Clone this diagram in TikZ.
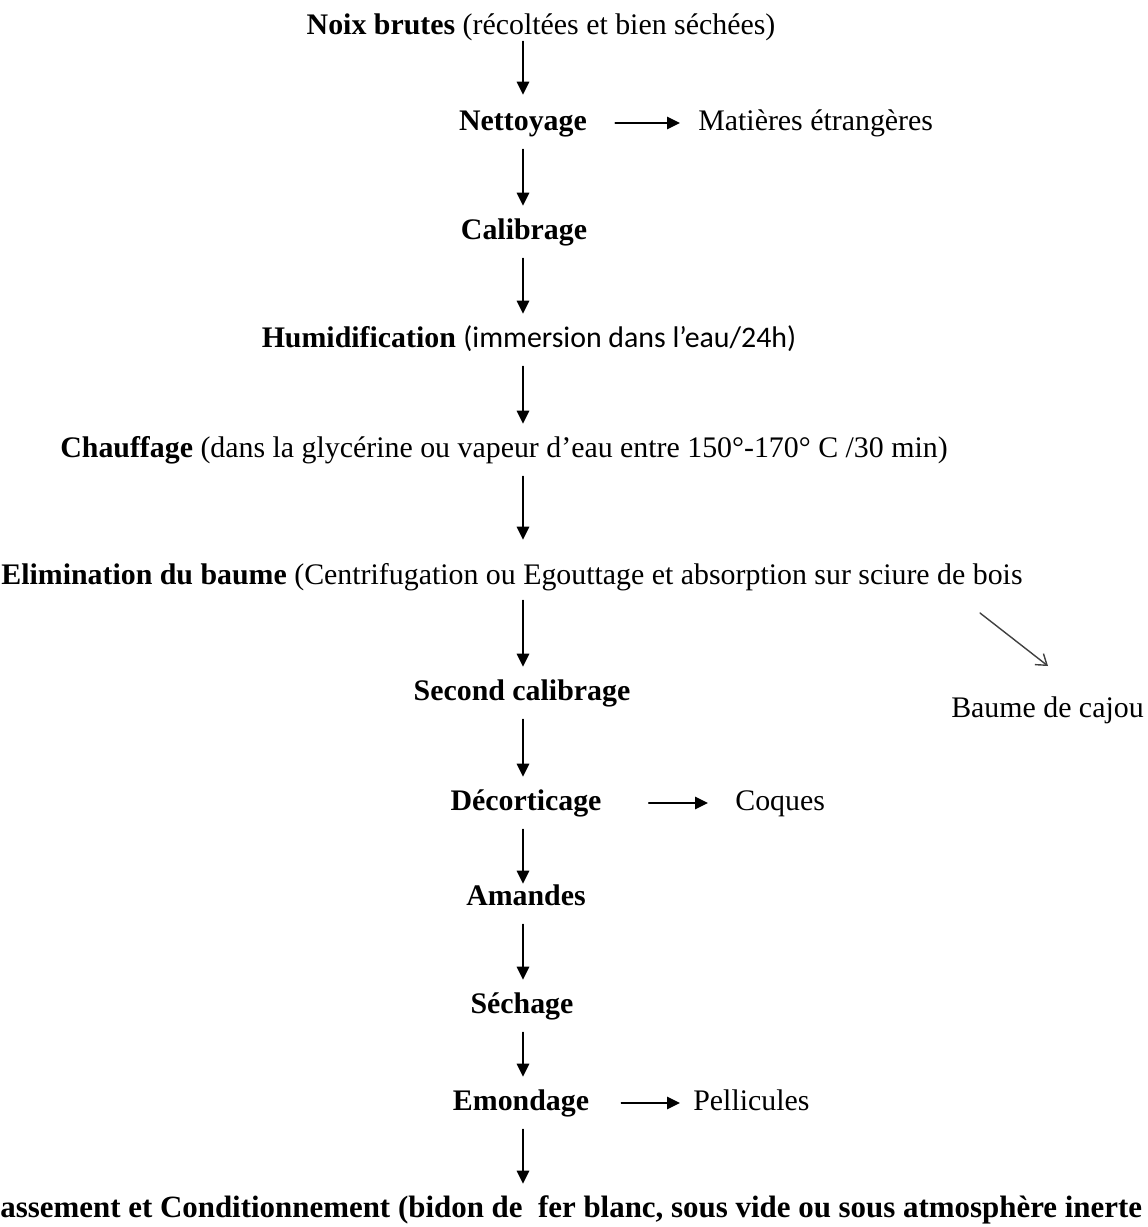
\documentclass[tikz,border=0pt]{standalone}
\usepackage{fontspec}
\setmainfont{Liberation Serif}
\newfontfamily\calibfont{Carlito}
\usetikzlibrary{arrows.meta}

\begin{document}
\begin{tikzpicture}[x=0.02cm, y=-0.02cm, >={Triangle[length=0.26cm,width=0.25cm]},
	line cap=round, line join=round, font=\fontsize{17}{20}\selectfont,
	lbl/.style={inner sep=0pt, text height=12pt, text depth=4pt},
	flow/.style={->, line width=0.9pt, shorten <=0.24cm, shorten >=0.24cm},
	waste/.style={->, line width=0.9pt},
	waste2/.style={-{Straight Barb[length=0.2cm,width=0.28cm]}, line width=0.8pt, draw=black!75}]

\useasboundingbox (0,0) rectangle (1147,1227);
\coordinate (col) at (523,0);

% ==== main line ====
\node[lbl] (noix) at (541,27) {\textbf{Noix brutes} (récoltées et bien séchées)};
\node[lbl] (nett) at (523,123) {\textbf{Nettoyage}};
\node[lbl] (cal) at (524,232) {\textbf{Calibrage}};
\node[lbl] (hum) at (529,340) {\textbf{Humidification} {\calibfont (immersion dans l’eau/24h)}};
\node[lbl] (chauf) at (504,450) {\textbf{Chauffage} (dans la glycérine ou vapeur d’eau entre 150°-170° C /30 min)};
\node[lbl] (elim) at (512,577) {\textbf{Elimination du baume} (Centrifugation ou Egouttage et absorption sur sciure de bois};
\node[lbl] (sec) at (522,693) {\textbf{Second calibrage}};
\node[lbl] (dec) at (526,803) {\textbf{Décorticage}};
\node[lbl] (am) at (526,898) {\textbf{Amandes}};
\node[lbl] (sech) at (522,1006) {\textbf{Séchage}};
\node[lbl] (emon) at (521,1103) {\textbf{Emondage}};
\node[lbl, anchor=west, font=\fontsize{17.6}{20}\selectfont] (cond) at (0,1210)
	{\textbf{assement et Conditionnement (bidon de\ \ fer blanc, sous vide ou sous atmosphère inerte}};

% ==== side products ====
\node[lbl, anchor=west] (mat) at (698,123) {Matières étrangères};
\node[lbl, anchor=east] (baume) at (1144,710) {Baume de cajou};
\node[lbl, anchor=west] (coq) at (735,803) {Coques};
\node[lbl, anchor=west] (pell) at (693,1103) {Pellicules};

% vertical arrows
\draw[flow, shorten <=0pt, shorten >=0.28cm] (noix.south -| col) -- (nett.north -| col);
\draw[flow] (nett.south -| col) -- (cal.north -| col);
\draw[flow] (cal.south -| col) -- (hum.north -| col);
\draw[flow] (hum.south -| col) -- (chauf.north -| col);
\draw[flow, shorten >=0.46cm] (chauf.south -| col) -- (elim.north -| col);
\draw[flow, shorten <=0.18cm] (elim.south -| col) -- (sec.north -| col);
\draw[flow] (sec.south -| col) -- (dec.north -| col);
\draw[flow, shorten >=0pt] (dec.south -| col) -- (am.north -| col);
\draw[flow] (am.south -| col) -- (sech.north -| col);
\draw[flow] (sech.south -| col) -- (emon.north -| col);
\draw[flow] (emon.south -| col) -- (cond.north -| col);

% side arrows
\draw[waste, shorten <=0.56cm, shorten >=0.36cm] (nett.east) -- (mat.west);
\draw[waste, shorten <=0.94cm, shorten >=0.54cm] (dec.east) -- (coq.west);
\draw[waste, shorten <=0.64cm, shorten >=0.26cm] (emon.east) -- (pell.west);
\coordinate (split) at (980,613);
\coordinate (baumein) at (1048,666);
\draw[waste2] (split) -- (baumein);

\end{tikzpicture}
\end{document}
